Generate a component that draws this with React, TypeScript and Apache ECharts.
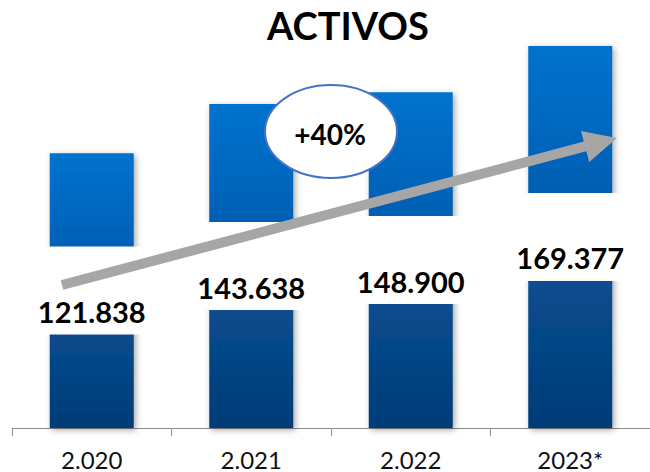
import React, { useEffect, useRef } from "react";
import * as echarts from "echarts";

const categories = ["2.020", "2.021", "2.022", "2023*"];
const activos = [121838, 143638, 148900, 169377];
const titleText = "ACTIVOS";
const growthText = "+40%";

const fmt = (v: number) => String(v).replace(/\B(?=(\d{3})+(?!\d))/g, ".");

function arrowPoints(x1: number, y1: number, x2: number, y2: number, half: number, headLen: number, headHalf: number) {
  const dx = x2 - x1, dy = y2 - y1;
  const len = Math.sqrt(dx * dx + dy * dy);
  const ux = dx / len, uy = dy / len;
  const nx = -uy, ny = ux;
  const bx = x2 - headLen * ux, by = y2 - headLen * uy;
  return [
    [x1 - half * nx, y1 - half * ny],
    [bx - half * nx, by - half * ny],
    [bx - headHalf * nx, by - headHalf * ny],
    [x2, y2],
    [bx + headHalf * nx, by + headHalf * ny],
    [bx + half * nx, by + half * ny],
    [x1 + half * nx, y1 + half * ny],
  ];
}

export default function App() {
  const ref = useRef<HTMLDivElement>(null);
  useEffect(() => {
    if (!ref.current) return;
    const chart = echarts.init(ref.current, undefined, { renderer: "svg" });
    const font = "Lato, 'Open Sans', sans-serif";
    chart.setOption({
      animation: false,
      title: {
        text: titleText,
        left: 262,
        top: 1,
        textStyle: { fontFamily: font, fontWeight: "bold", fontSize: 38, color: "#000" },
      },
      grid: { left: 12, right: -2, top: 22, bottom: 44 },
      xAxis: {
        type: "category",
        data: categories,
        axisLine: { lineStyle: { color: "#8c8c8c", width: 1 } },
        axisTick: { show: true, length: 8, lineStyle: { color: "#8c8c8c" } },
        axisLabel: { fontFamily: font, fontSize: 24, lineHeight: 24, color: "#111", margin: 19 },
      },
      yAxis: { type: "value", min: 0, max: 180000, show: false, splitLine: { show: false } },
      series: [
        {
          type: "bar",
          data: activos,
          barWidth: 84,
          itemStyle: {
            color: new echarts.graphic.LinearGradient(0, 0, 0, 1, [
              { offset: 0, color: "#0072CE" },
              { offset: 0.34, color: "#0061B6" },
              { offset: 0.66, color: "#084B8C" },
              { offset: 1, color: "#013C78" },
            ]),
            shadowColor: "rgba(0,0,0,0.35)",
            shadowBlur: 6,
            shadowOffsetX: 2,
            shadowOffsetY: 2,
          },
          label: {
            show: true,
            position: "inside",
            formatter: (p: any) => "{v|" + fmt(p.value) + "}",
            backgroundColor: "#fff",
            padding: [50, 10, 8, 10],
            rich: {
              v: {
                fontFamily: font,
                fontWeight: "bold",
                fontSize: 29,
                lineHeight: 30,
                color: "#000",
              },
            },
          },
        },
      ],
      graphic: [
        {
          type: "polygon",
          z: 100,
          shape: { points: arrowPoints(62, 285, 617, 138, 5, 33, 16) },
          style: { fill: "#A6A6A6" },
        },
        {
          type: "ellipse",
          z: 100,
          shape: { cx: 331, cy: 131.5, rx: 66, ry: 46.5 },
          style: { fill: "#fff", stroke: "#4472C4", lineWidth: 2 },
        },
        {
          type: "text",
          z: 101,
          x: 330,
          y: 134,
          style: {
            text: growthText,
            fontFamily: font,
            fontWeight: "bold",
            fontSize: 28,
            fill: "#000",
            align: "center",
            verticalAlign: "middle",
          },
        },
      ],
    });
    return () => chart.dispose();
  }, []);
  return <div ref={ref} style={{ width: 650, height: 472, position: "absolute", left: 0, top: 0 }} />;
}
